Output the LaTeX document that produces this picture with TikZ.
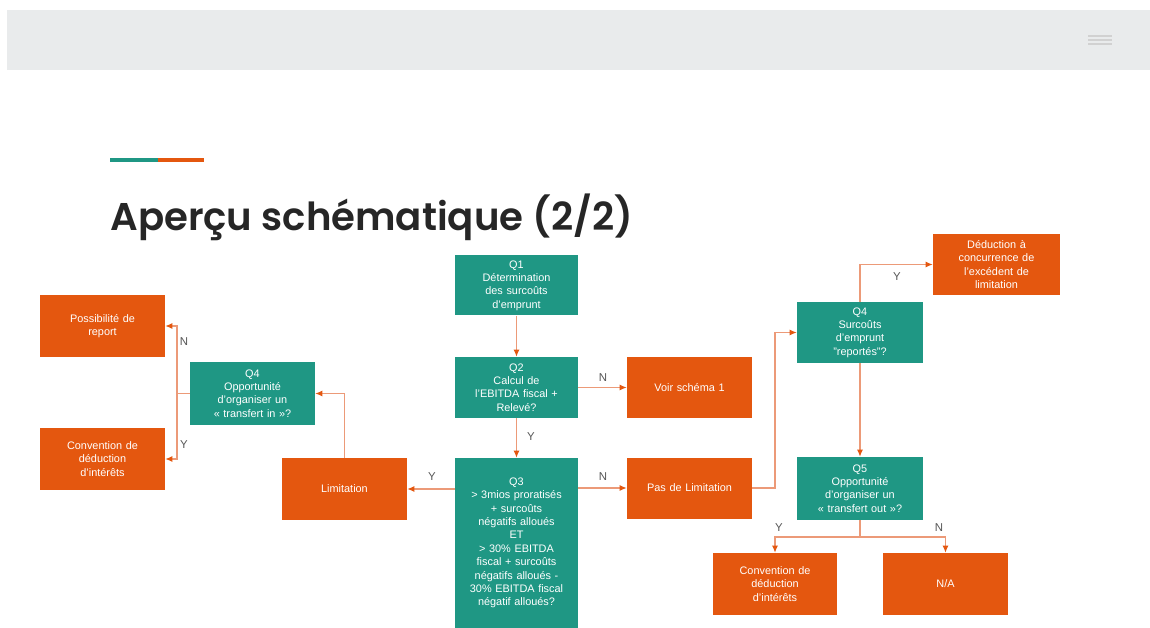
\documentclass[tikz,border=0pt]{standalone}
\usepackage{fontspec}
\setmainfont{Liberation Sans}
\newfontfamily\titlefont[UprightFont={* SemiBold}]{Poppins}
\usetikzlibrary{arrows.meta, positioning, calc}
\definecolor{boxteal}{HTML}{1F9784}
\definecolor{boxorange}{HTML}{E4570F}
\definecolor{linkorange}{HTML}{EC9A78}
\definecolor{bandgrey}{HTML}{E9EBEC}
\definecolor{labelgrey}{HTML}{555555}

\begin{document}
\begin{tikzpicture}[x=0.02cm, y=-0.02cm,
    box/.style={draw=none, inner sep=0pt, text=white, align=center,
      font=\fontsize{6.2}{7.6}\selectfont, text width=2.25cm},
    qbox/.style={box, fill=boxteal},
    abox/.style={box, fill=boxorange},
    link/.style={linkorange, line width=0.6pt,
      -{Latex[length=1.4mm, width=1.2mm, color=boxorange]}},
    plain/.style={linkorange, line width=0.6pt},
    yn/.style={text=labelgrey, font=\fontsize{6.5}{7}\selectfont, inner sep=1pt}]
    \useasboundingbox (0,0) rectangle (1150,628);
    \fill[white] (0,0) rectangle (1150,628);
    \fill[bandgrey] (7,10) rectangle (1150,70);
    \foreach \y in {36,40,44}{%
      \draw[black!18, line width=1pt] (1088,\y) -- (1112,\y);}
    \draw[boxteal, line width=2.4pt] (110,160) -- (158,160);
    \draw[boxorange, line width=2.4pt] (158,160) -- (204,160);
    \node[anchor=base west, inner sep=0pt, text=black!85,
      font=\titlefont\fontsize{22}{26}\selectfont]
      (title) at (110,231) {Aperçu schématique (2/2)};

    \node[qbox, minimum width=123*0.02cm, minimum height=60*0.02cm]
      (q1) at (516.5,285.5) {Q1\\Détermination\\des surcoûts\\d'emprunt};
    \node[qbox, minimum width=123*0.02cm, minimum height=61*0.02cm]
      (q2) at (516.5,387.5) {Q2\\Calcul de\\l'EBITDA fiscal +\\Relevé?};
    \node[qbox, minimum width=123*0.02cm, minimum height=170*0.02cm]
      (q3) at (516.5,543) {Q3\\> 3mios proratisés\\+ surcoûts\\négatifs alloués\\ET\\> 30\% EBITDA\\fiscal + surcoûts\\négatifs alloués -\\30\% EBITDA fiscal\\négatif alloués?\\[0.25cm]};
    \node[abox, minimum width=125*0.02cm, minimum height=62*0.02cm]
      (limit) at (344.5,489) {Limitation};
    \node[qbox, minimum width=125*0.02cm, minimum height=63*0.02cm]
      (q4in) at (252.5,393.5) {Q4\\Opportunité\\d'organiser un\\« transfert in »?};
    \node[abox, minimum width=125*0.02cm, minimum height=62*0.02cm]
      (report) at (102.5,326) {Possibilité de\\report};
    \node[abox, minimum width=125*0.02cm, minimum height=62*0.02cm]
      (convin) at (102.5,459) {Convention de\\déduction\\d'intérêts};
    \node[abox, minimum width=125*0.02cm, minimum height=61*0.02cm]
      (voir) at (689.5,387.5) {Voir schéma 1};
    \node[abox, minimum width=125*0.02cm, minimum height=61*0.02cm]
      (paslim) at (689.5,488) {Pas de Limitation};
    \node[qbox, minimum width=126*0.02cm, minimum height=61*0.02cm]
      (q4out) at (860,332.5) {Q4\\Surcoûts\\d'emprunt\\"reportés"?};
    \node[abox, minimum width=127*0.02cm, minimum height=61*0.02cm]
      (deduc) at (996.5,264.5) {Déduction à\\concurrence de\\l'excédent de\\limitation};
    \node[qbox, minimum width=126*0.02cm, minimum height=63*0.02cm]
      (q5) at (860,488.5) {Q5\\Opportunité\\d'organiser un\\« transfert out »?};
    \node[abox, minimum width=124*0.02cm, minimum height=62*0.02cm]
      (convout) at (775,584) {Convention de\\déduction\\d'intérêts};
    \node[abox, minimum width=125*0.02cm, minimum height=62*0.02cm]
      (na) at (945.5,584) {N/A};

    \coordinate (fork) at (177,393.5);
    \coordinate (turn) at (775,410);
    \coordinate (split) at (860,537);

    \draw[link] (q1) -- (q2);
    \draw[link] (q2) -- (voir);
    \draw[link] (q2) -- (q3);
    \draw[link] (q3.east |- paslim) -- (paslim);
    \draw[link] (q3.west |- limit) -- (limit);
    \draw[link] (limit.north) |- (q4in);
    \draw[plain] (q4in) -- (fork);
    \draw[link] (fork) |- (report);
    \draw[link] (fork) |- (convin);
    \draw[link] (paslim) -| (turn) |- (q4out);
    \draw[link] (q4out.north) |- (deduc);
    \draw[link] (q4out) -- (q5);
    \draw[plain] (q5) -- (split);
    \draw[link] (split) -| (convout);
    \draw[link] (split) -| (na);

    \node[yn] (n1) at (603,378) {N};
    \node[yn] (y1) at (531,437) {Y};
    \node[yn] (n2) at (603,477) {N};
    \node[yn] (y2) at (432,477) {Y};
    \node[yn] (n3) at (184,342) {N};
    \node[yn] (y3) at (184,445) {Y};
    \node[yn] (y4) at (897,277) {Y};
    \node[yn] (y5) at (779,528) {Y};
    \node[yn] (n5) at (939,528) {N};
  \end{tikzpicture}
\end{document}
